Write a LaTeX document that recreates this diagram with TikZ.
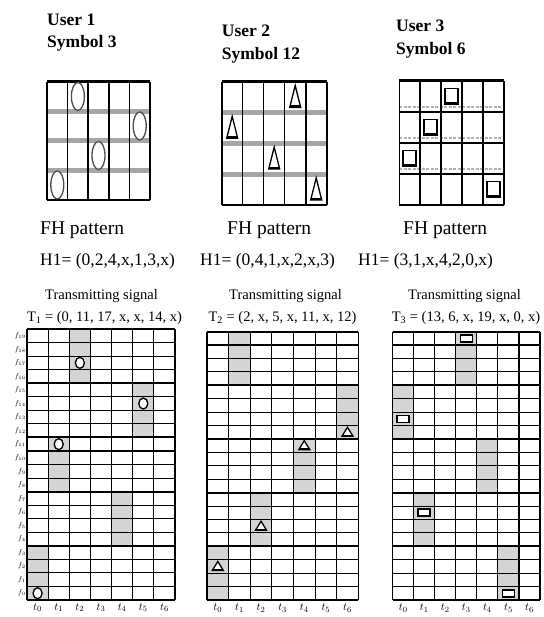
\documentclass[tikz,border=0pt]{standalone}
\usepackage{fontspec}
\setmainfont{Liberation Serif}
\usetikzlibrary{positioning}

\begin{document}
\begin{tikzpicture}[x=1pt, y=-1pt,
  usertitle/.style={font=\fontsize{17.5}{21}\selectfont\bfseries, anchor=base west, inner sep=0pt},
  fhtext/.style={font=\fontsize{19.5}{22}\selectfont, anchor=base west, inner sep=0pt},
  hoptext/.style={font=\fontsize{17.5}{20}\selectfont, anchor=base west, inner sep=0pt},
  sigtitle/.style={font=\fontsize{14.5}{16}\selectfont, anchor=base, inner sep=0pt},
  tlabel/.style={font=\fontsize{11}{12}\selectfont, inner sep=0pt},
  flabel/.style={font=\fontsize{7}{8}\selectfont, anchor=east, inner sep=0pt},
  gridline/.style={line width=1.1pt},
  groupline/.style={line width=1.9pt},
  hopband/.style={line width=5pt, black!35},
  hopcell/.style={fill=black!17},
  ovalmark/.style={draw=black!70, fill=white, line width=1.3pt},
  trimark/.style={draw=black, fill=white, line width=1.3pt},
  boxmark/.style={draw=black, fill=white, line width=1.6pt}]
  \useasboundingbox (0,0) rectangle (543,617);

  % User 1, symbol 3
  \node[usertitle] (user1) at (47,25.5) {User 1};
  \node[usertitle] (sym1) at (47,48) {Symbol 3};
  \begin{scope}[shift={(47,81.7)}, x=20.6pt, y=-29.5pt]
    \foreach \r in {1,2,3} \draw[hopband] (0,\r) -- (5,\r);
    \foreach \c in {0,...,5} \draw[line width=1.5pt] (\c,0) -- (\c,4);
    \draw[line width=3pt] (0,0) -- (5,0);
    \draw[line width=2pt] (0,4) -- (5,4);
    \foreach \c/\r in {1/0, 4/1, 2/2, 0/3}
      \draw[ovalmark] (\c+0.5,\r+0.5) ellipse [x radius=6.5pt, y radius=14pt];
  \end{scope}

  % User 2, symbol 12
  \node[usertitle] (user2) at (221.7,36.5) {User 2};
  \node[usertitle] (sym2) at (221.7,60) {Symbol 12};
  \begin{scope}[shift={(221.7,81.7)}, x=21pt, y=-30.8pt]
    \foreach \r in {1,2,3} \draw[hopband] (0,\r) -- (5,\r);
    \foreach \c in {1,2,3} \draw[line width=1.5pt] (\c,0) -- (\c,4);
    \foreach \c in {0,4,5} \draw[line width=2.4pt] (\c,0) -- (\c,4);
    \draw[line width=3pt] (0,0) -- (5,0);
    \draw[line width=2.5pt] (0,4) -- (5,4);
    \foreach \c/\r in {3/0, 0/1, 2/2, 4/3} {
      \draw[trimark] (\c+0.5,\r+1) ++(-5.5pt,5pt) -- ++(5.5pt,22pt) -- ++(5.5pt,-22pt) -- cycle;
      \draw[line width=2.5pt] (\c+0.5,\r+1) ++(-5.5pt,6pt) -- ++(11pt,0pt);
    }
  \end{scope}

  % User 3, symbol 6
  \node[usertitle] (user3) at (396,32) {User 3};
  \node[usertitle] (sym3) at (396,55) {Symbol 6};
  \begin{scope}[shift={(399.3,81)}, x=20.94pt, y=-31pt]
    \foreach \r in {1,2,3} {
      \draw[black!30, line width=1.5pt, dash pattern=on 3pt off 1.5pt] (0,\r) ++(0pt,5pt) -- ++(5,0);
      \draw[line width=1.5pt] (0,\r) -- (5,\r);
    }
    \foreach \c in {0,...,5} \draw[line width=1.6pt] (\c,0) -- (\c,4);
    \draw[line width=3pt] (0,0) -- (5,0);
    \draw[line width=2pt] (0,4) -- (5,4);
    \foreach \c/\r in {2/0, 1/1, 0/2, 4/3} {
      \draw[boxmark, line width=1.8pt] (\c+0.5,\r+0.5) ++(-6.5pt,-8pt) rectangle ++(13pt,16pt);
      \draw[line width=3pt] (\c+0.5,\r+0.5) ++(-6.5pt,-7pt) -- ++(13pt,0pt);
    }
  \end{scope}

  % FH patterns
  \node[fhtext] (fh1) at (40,234) {FH pattern};
  \node[hoptext] (hop1) at (40,265) {H1= (0,2,4,x,1,3,x)};
  \node[fhtext] (fh2) at (227,234) {FH pattern};
  \node[hoptext] (hop2) at (200,265) {H1= (0,4,1,x,2,x,3)};
  \node[fhtext] (fh3) at (403,234) {FH pattern};
  \node[hoptext] (hop3) at (358,265) {H1= (3,1,x,4,2,0,x)};

  % Transmitting signal, user 1
  \node[sigtitle] (sig1) at (101.5,299) {Transmitting signal};
  \node[sigtitle] (code1) at (104.5,321) {T\textsubscript{1} = (0, 11, 17, x, x, 14, x)};
  \begin{scope}[shift={(27,600)}, x=21.14pt, y=13.55pt]
    \foreach \t/\g in {0/0, 1/2, 2/4, 4/1, 5/3} \fill[hopcell] (\t,4*\g) rectangle (\t+1,4*\g+4);
    \foreach \r in {0,...,20} \draw[gridline] (0,\r) -- (7,\r);
    \foreach \r in {0,4,...,20} \draw[groupline] (0,\r) -- (7,\r);
    \foreach \c in {0,...,7} \draw[gridline] (\c,0) -- (\c,20);
    \foreach \t/\f in {0/0, 1/11, 2/17, 5/14}
      \draw[ovalmark, draw=black] (\t+0.5,\f+0.5) ellipse [x radius=4.5pt, y radius=5.5pt];
    \foreach \c in {0,...,6} \node[tlabel] (ta\c) at (\c+0.5,-0.55) {$t_{\c}$};
    \foreach \r in {0,...,19} \node[flabel] (fa\r) at (-0.05,\r+0.5) {$f_{\r}$};
  \end{scope}

  % Transmitting signal, user 2
  \node[sigtitle] (sig2) at (285.5,299) {Transmitting signal};
  \node[sigtitle] (code2) at (282.5,321) {T\textsubscript{2} = (2, x, 5, x, 11, x, 12)};
  \begin{scope}[shift={(207,600)}, x=21.61pt, y=13.42pt]
    \foreach \t/\g in {0/0, 1/4, 2/1, 4/2, 6/3} \fill[hopcell] (\t,4*\g) rectangle (\t+1,4*\g+4);
    \foreach \r in {0,...,20} \draw[gridline] (0,\r) -- (7,\r);
    \foreach \r in {0,4,...,20} \draw[groupline] (0,\r) -- (7,\r);
    \foreach \c in {0,...,7} \draw[gridline] (\c,0) -- (\c,20);
    \foreach \t/\f in {0/2, 2/5, 4/11, 6/12} {
      \draw[trimark] (\t+0.5,\f+0.5) ++(-5.5pt,-4pt) -- ++(5.5pt,9pt) -- ++(5.5pt,-9pt) -- cycle;
      \draw[line width=2pt] (\t+0.5,\f+0.5) ++(-5.5pt,-3.5pt) -- ++(11pt,0pt);
    }
    \foreach \c in {0,...,6} \node[tlabel] (tb\c) at (\c+0.5,-0.6) {$t_{\c}$};
  \end{scope}

  % Transmitting signal, user 3
  \node[sigtitle] (sig3) at (464.5,299) {Transmitting signal};
  \node[sigtitle] (code3) at (466,321) {T\textsubscript{3} = (13, 6, x, 19, x, 0, x)};
  \begin{scope}[shift={(392.7,600)}, x=21.04pt, y=13.42pt]
    \foreach \t/\g in {0/3, 1/1, 3/4, 4/2, 5/0} \fill[hopcell] (\t,4*\g) rectangle (\t+1,4*\g+4);
    \foreach \r in {0,...,20} \draw[gridline] (0,\r) -- (7,\r);
    \foreach \r in {0,4,...,20} \draw[groupline] (0,\r) -- (7,\r);
    \foreach \c in {0,...,7} \draw[gridline] (\c,0) -- (\c,20);
    \foreach \t/\f in {0/13, 1/6, 3/19, 5/0}
      \draw[boxmark] (\t+0.5,\f+0.5) ++(-6pt,-3.5pt) rectangle ++(12pt,7pt);
    \foreach \c in {0,...,6} \node[tlabel] (tc\c) at (\c+0.5,-0.6) {$t_{\c}$};
  \end{scope}
\end{tikzpicture}
\end{document}
